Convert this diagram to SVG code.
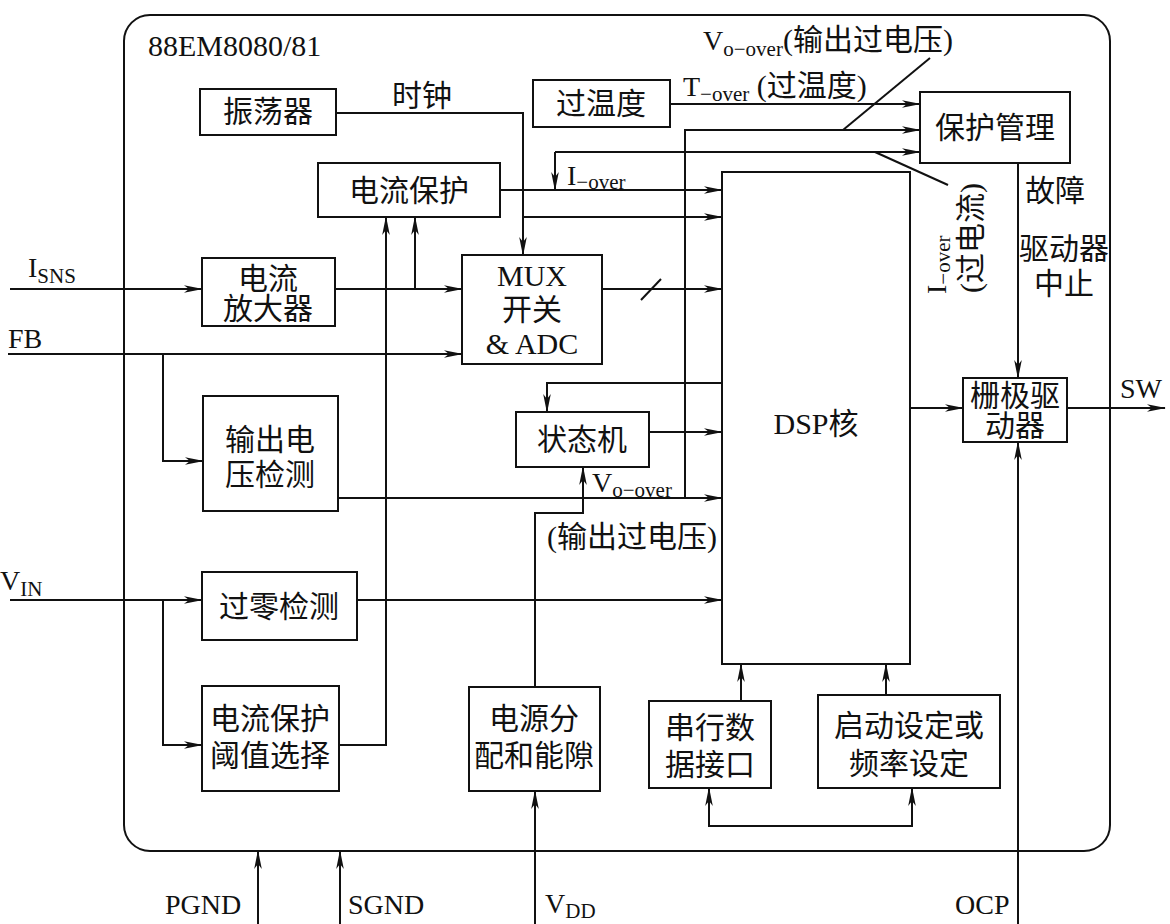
<svg xmlns="http://www.w3.org/2000/svg" width="1170" height="924" viewBox="0 0 1170 924">
<defs>
<marker id="a" markerUnits="userSpaceOnUse" markerWidth="19" markerHeight="10" refX="18" refY="5" orient="auto"><path d="M0,1.2 L19,5 L0,8.8 L5,5 Z" fill="#111"/></marker>
</defs>
<style>
.b{fill:#fff;stroke:#111;stroke-width:2}
.c{fill:none;stroke:#111;stroke-width:2}
.ar{marker-end:url(#a)}
text{font-family:"Liberation Serif","Noto Sans CJK SC",serif;fill:#111}
.t{font-size:30px;text-anchor:middle}
.l{font-size:28px}
.cj{font-size:30px}
.s{font-size:21px}
</style>
<rect class="c" x="124" y="15" width="986" height="836" rx="26"/>
<text class="cj" x="148" y="56">88EM8080/81</text>

<g id="connectors">
<path class="c ar" d="M336,113 H523 V255"/>
<path class="c ar" d="M523,217 H722"/>
<path class="c ar" d="M670,104 H920"/>
<path class="c ar" d="M338,498 H722"/>
<path class="c ar" d="M685,498 V130 H920"/>
<path class="c ar" d="M555,152 H920"/>
<path class="c ar" d="M555,152 V190"/>
<path class="c ar" d="M500,190 H722"/>
<path class="c ar" d="M335,289 H462"/>
<path class="c ar" d="M415,289 V217"/>
<path class="c ar" d="M10,289 H202"/>
<path class="c ar" d="M8,354 H462"/>
<path class="c ar" d="M163,354 V461 H203"/>
<path class="c ar" d="M602,289 H722"/>
<path class="c" d="M641,300 L661,279"/>
<path class="c ar" d="M722,383 H547 V412"/>
<path class="c ar" d="M649,432 H722"/>
<path class="c ar" d="M535,687 V513 H583 V467"/>
<path class="c ar" d="M10,600 H202"/>
<path class="c ar" d="M357,600 H722"/>
<path class="c ar" d="M163,600 V745 H202"/>
<path class="c ar" d="M339,745 H386 V217"/>
<path class="c ar" d="M535,924 V791"/>
<path class="c ar" d="M741,701 V664"/>
<path class="c ar" d="M886,695 V664"/>
<path class="c ar" d="M912,826 H709 V788"/>
<path class="c ar" d="M709,826 H912 V788"/>
<path class="c ar" d="M910,408 H963"/>
<path class="c ar" d="M1067,408 H1165"/>
<path class="c ar" d="M1018,163 V378"/>
<path class="c ar" d="M1018,924 V442"/>
<path class="c ar" d="M258,924 V851"/>
<path class="c ar" d="M340,924 V851"/>
<path class="c" d="M930,58 L843,130"/>
<path class="c" d="M875,152 L948,185"/>
</g>

<g id="osc"><rect class="b" x="200" y="89" width="136" height="46"/><text class="t" x="268" y="122">振荡器</text></g>
<g id="otemp"><rect class="b" x="533" y="80" width="137" height="47"/><text class="t" x="601" y="114">过温度</text></g>
<g id="protmgmt"><rect class="b" x="920" y="92" width="150" height="71"/><text class="t" x="995" y="138">保护管理</text></g>
<g id="cprot"><rect class="b" x="318" y="163" width="182" height="54"/><text class="t" x="409" y="201">电流保护</text></g>
<g id="camp"><rect class="b" x="202" y="258" width="133" height="68"/><text class="t" x="268" y="289">电流</text><text class="t" x="268" y="319">放大器</text></g>
<g id="mux"><rect class="b" x="462" y="255" width="140" height="109"/><text class="t" x="532" y="286">MUX</text><text class="t" x="532" y="320">开关</text><text class="t" x="532" y="354">&amp; ADC</text></g>
<g id="vdet"><rect class="b" x="203" y="396" width="135" height="115"/><text class="t" x="270" y="450">输出电</text><text class="t" x="270" y="485">压检测</text></g>
<g id="sm"><rect class="b" x="516" y="412" width="133" height="55"/><text class="t" x="582" y="450">状态机</text></g>
<g id="dsp"><rect class="b" x="722" y="172" width="188" height="492"/><text class="t" x="816" y="434">DSP核</text></g>
<g id="zcd"><rect class="b" x="202" y="572" width="155" height="68"/><text class="t" x="279" y="617">过零检测</text></g>
<g id="cpth"><rect class="b" x="202" y="686" width="137" height="105"/><text class="t" x="270" y="729">电流保护</text><text class="t" x="270" y="766">阈值选择</text></g>
<g id="pwr"><rect class="b" x="469" y="687" width="131" height="104"/><text class="t" x="534" y="729">电源分</text><text class="t" x="534" y="766">配和能隙</text></g>
<g id="sdi"><rect class="b" x="649" y="701" width="122" height="87"/><text class="t" x="710" y="738">串行数</text><text class="t" x="710" y="775">据接口</text></g>
<g id="startup"><rect class="b" x="818" y="695" width="182" height="93"/><text class="t" x="909" y="736">启动设定或</text><text class="t" x="909" y="774">频率设定</text></g>
<g id="gate"><rect class="b" x="963" y="378" width="104" height="64"/><text class="t" x="1015" y="406">栅极驱</text><text class="t" x="1015" y="436">动器</text></g>

<g id="labels">
<text class="cj" x="392" y="106">时钟</text>
<text class="l" x="683" y="96">T<tspan class="s" dy="5">−over</tspan><tspan class="cj" dy="-5"> (过温度)</tspan></text>
<text class="l" x="703" y="50">V<tspan class="s" dy="6">o−over</tspan><tspan class="cj" dy="-6">(输出过电压)</tspan></text>
<text class="l" x="567" y="185">I<tspan class="s" dy="4">−over</tspan></text>
<text class="l" transform="translate(946,294) rotate(-90)">I<tspan class="s" dy="4">−over</tspan></text>
<text class="cj" transform="translate(981,293) rotate(-90)">(过电流)</text>
<text class="l" x="592" y="492">V<tspan class="s" dy="5">o−over</tspan></text>
<text class="cj" x="547" y="547">(输出过电压)</text>
<text class="l" x="28" y="277">I<tspan class="s" dy="6">SNS</tspan></text>
<text class="l" x="8" y="348">FB</text>
<text class="l" x="0" y="590">V<tspan class="s" dy="6">IN</tspan></text>
<text class="l" x="165" y="914">PGND</text>
<text class="l" x="348" y="914">SGND</text>
<text class="l" x="545" y="913">V<tspan class="s" dy="5">DD</tspan></text>
<text class="l" x="955" y="914">OCP</text>
<text class="l" x="1120" y="398">SW</text>
<text class="t" x="1055" y="201">故障</text>
<text class="t" x="1064" y="259">驱动器</text>
<text class="t" x="1064" y="294">中止</text>
</g>
</svg>
